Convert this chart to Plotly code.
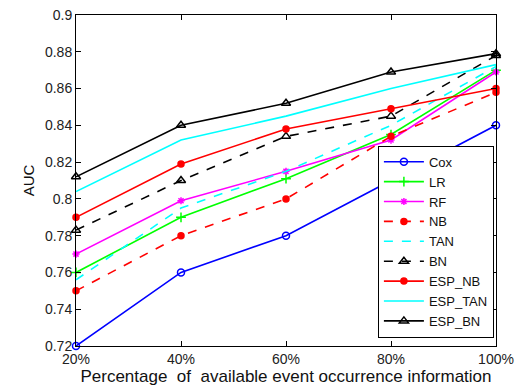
import plotly.graph_objects as go

x_vals = [20, 40, 60, 80, 100]
x_labels = ["20%", "40%", "60%", "80%", "100%"]

cox = [0.720, 0.760, 0.780, 0.810, 0.840]
lr = [0.760, 0.790, 0.811, 0.835, 0.870]
rf = [0.770, 0.799, 0.815, 0.832, 0.869]
nb = [0.750, 0.780, 0.800, 0.834, 0.858]
tan = [0.756, 0.795, 0.815, 0.840, 0.872]
bn = [0.783, 0.810, 0.834, 0.845, 0.878]
esp_nb = [0.790, 0.819, 0.838, 0.849, 0.860]
esp_tan = [0.804, 0.832, 0.845, 0.860, 0.873]
esp_bn = [0.812, 0.840, 0.852, 0.869, 0.879]

y_ticks = [0.72, 0.74, 0.76, 0.78, 0.80, 0.82, 0.84, 0.86, 0.88, 0.90]
y_labels = ["0.72", "0.74", "0.76", "0.78", "0.8", "0.82", "0.84", "0.86", "0.88", "0.9"]

series = [
    ("Cox", cox, "#0000ff", "solid", "circle-open", 7),
    ("LR", lr, "#00ff00", "solid", "cross-thin-open", 7),
    ("RF", rf, "#ff00ff", "solid", "asterisk-open", 6),
    ("NB", nb, "#ff0000", "dash", "circle", 6),
    ("TAN", tan, "#00ffff", "dash", None, 0),
    ("BN", bn, "#000000", "dash", "triangle-up-open", 8),
    ("ESP_NB", esp_nb, "#ff0000", "solid", "circle", 6),
    ("ESP_TAN", esp_tan, "#00ffff", "solid", None, 0),
    ("ESP_BN", esp_bn, "#000000", "solid", "triangle-up-open", 8),
]

fig = go.Figure()
for name, vals, color, dash, sym, size in series:
    kw = dict(x=x_vals, y=vals, name=name, cliponaxis=False,
              line=dict(color=color, width=1.6, dash=dash))
    if sym:
        kw["mode"] = "lines+markers"
        kw["marker"] = dict(symbol=sym, size=size, color=color,
                            line=dict(color=color, width=1.5))
    else:
        kw["mode"] = "lines"
    fig.add_trace(go.Scatter(**kw))

axis_common = dict(showgrid=False, zeroline=False, showline=True, linecolor="black",
                   linewidth=1, mirror="ticks", ticks="inside", ticklen=5,
                   tickcolor="black", automargin=False,
                   tickfont=dict(family="Liberation Sans", size=14, color="#222"))

fig.update_xaxes(range=[20, 100], tickvals=x_vals, ticktext=x_labels,
                 title=dict(text="Percentage\u00a0 of\u00a0 available event occurrence information",
                            font=dict(family="Liberation Sans", size=17, color="#111"), standoff=0),
                 **axis_common)
fig.update_yaxes(range=[0.72, 0.90], tickvals=y_ticks, ticktext=y_labels,
                 title=dict(text="AUC", font=dict(family="Liberation Sans", size=15, color="#111"),
                            standoff=6),
                 **axis_common)

fig.update_layout(
    width=519, height=387,
    margin=dict(l=76, r=23, t=15, b=41),
    paper_bgcolor="white", plot_bgcolor="white",
    showlegend=True,
    legend=dict(x=0.995, y=0.025, xanchor="right", yanchor="bottom",
                bgcolor="white", bordercolor="black", borderwidth=1,
                font=dict(family="Liberation Sans", size=13, color="#111"),
                tracegroupgap=0, itemwidth=40),
)

fig.write_html("out.html", config={"displayModeBar": False},
               post_script="document.body.style.margin='0';document.body.style.overflow='hidden';")
